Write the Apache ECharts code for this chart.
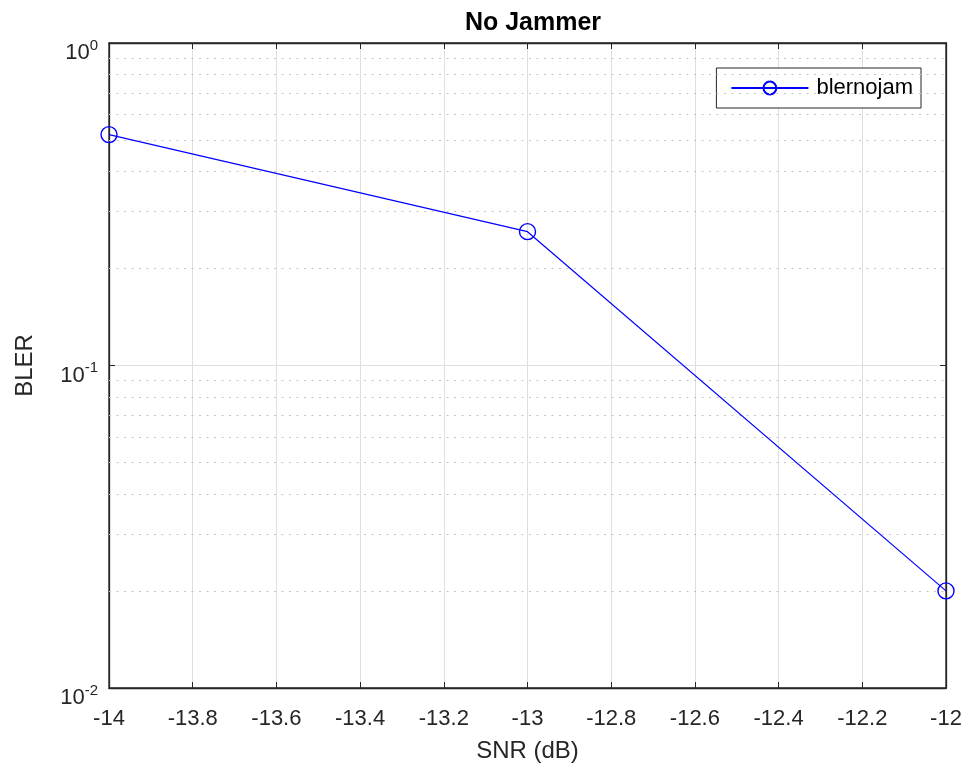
<!DOCTYPE html>
<html><head><meta charset="utf-8">
<script src="https://cdn.jsdelivr.net/npm/echarts@6/dist/echarts.min.js"></script>
<style>html,body{margin:0;padding:0;background:#fff}#c{width:972px;height:774px}</style>
</head><body><div id="c"></div>
<script>
const snr = [-14, -13, -12];
const bler = [0.52, 0.26, 0.02];
const seriesName = 'blernojam';
const titleText = 'No Jammer';
const xName = 'SNR (dB)';
const yName = 'BLER';
const minorY = [0.02,0.03,0.04,0.05,0.06,0.07,0.08,0.09,0.2,0.3,0.4,0.5,0.6,0.7,0.8,0.9];

const font = 'Liberation Sans, Arial, Helvetica, sans-serif';
const chart = echarts.init(document.getElementById('c'), null, {renderer:'canvas'});
const gridC = '#dfdfdf';
const axC = '#262626';
chart.setOption({
  animation: false,
  backgroundColor: '#fff',
  title: {text: titleText, left: 528, top: 6, textAlign: 'center',
    textStyle: {fontFamily: font, fontSize: 25, fontWeight: 'bold', color: '#000'}},
  grid: {left: 109, right: 26, top: 43, bottom: 86, show: true, borderColor: axC, borderWidth: 1.3, containLabel: false},
  legend: {right: 51, top: 68, data: [seriesName], orient: 'vertical',
    itemWidth: 77, itemHeight: 16, itemGap: 8,
    borderColor: axC, borderWidth: 1, padding: [9, 8, 9, 14], backgroundColor: '#fff',
    textStyle: {fontFamily: font, fontSize: 22, color: '#000', padding: [0, 0, 0, 3]}},
  xAxis: [{type: 'value', min: -14, max: -12, interval: 0.2,
    axisLine: {show: true, lineStyle: {color: axC, width: 1.3}},
    axisTick: {show: true, inside: true, length: 6, lineStyle: {color: axC}},
    splitLine: {show: true, lineStyle: {color: gridC, width: 1}},
    axisLabel: {fontFamily: font, fontSize: 22, color: '#262626', margin: 20,
      formatter: v => String(Math.round(v*10)/10)},
    name: xName, nameLocation: 'middle', nameGap: 51,
    nameTextStyle: {fontFamily: font, fontSize: 24, color: '#262626'}},
   {type: 'value', position: 'top', min: -14, max: -12, interval: 0.2,
    axisLine: {show: true, lineStyle: {color: axC, width: 1.3}},
    axisTick: {show: true, inside: true, length: 6, lineStyle: {color: axC}},
    axisLabel: {show: false}, splitLine: {show: false}}],
  yAxis: [{type: 'log', min: 0.01, max: 1, logBase: 10,
    axisLine: {show: true, lineStyle: {color: axC, width: 1.3}},
    axisTick: {show: true, inside: true, length: 6, lineStyle: {color: axC}},
    splitLine: {show: true, lineStyle: {color: gridC, width: 1}},
    axisLabel: {fontFamily: font, fontSize: 22, color: '#262626', margin: 11, padding: [16, 0, 0, 0],
      formatter: v => '{b|10}{s|' + Math.round(Math.log10(v)) + '}',
      rich: {b: {fontFamily: font, fontSize: 22, color: '#262626', verticalAlign: 'bottom'},
             s: {fontFamily: font, fontSize: 15, color: '#262626', verticalAlign: 'bottom', padding: [0,0,11,0]}}},
    name: yName, nameLocation: 'middle', nameGap: 72, nameRotate: 90,
    nameTextStyle: {fontFamily: font, fontSize: 24, color: '#262626'}},
   {type: 'log', position: 'right', min: 0.01, max: 1, logBase: 10,
    axisLine: {show: true, lineStyle: {color: axC, width: 1.3}},
    axisTick: {show: true, inside: true, length: 6, lineStyle: {color: axC}},
    axisLabel: {show: false}, splitLine: {show: false}}],
  series: [{name: seriesName, type: 'line', xAxisIndex: 0, yAxisIndex: 0,
    data: snr.map((x, i) => [x, bler[i]]),
    symbol: 'circle', symbolSize: 16, showSymbol: true,
    lineStyle: {color: '#0000ff', width: 1.2},
    itemStyle: {color: 'rgba(0,0,0,0)', borderColor: '#0000ff', borderWidth: 1.4},
    markLine: {silent: true, symbol: 'none', label: {show: false},
      lineStyle: {color: '#c4c4c4', type: [2, 5.5], width: 1},
      data: minorY.map(v => ({yAxis: v}))},
    z: 5}]
});
</script></body></html>
